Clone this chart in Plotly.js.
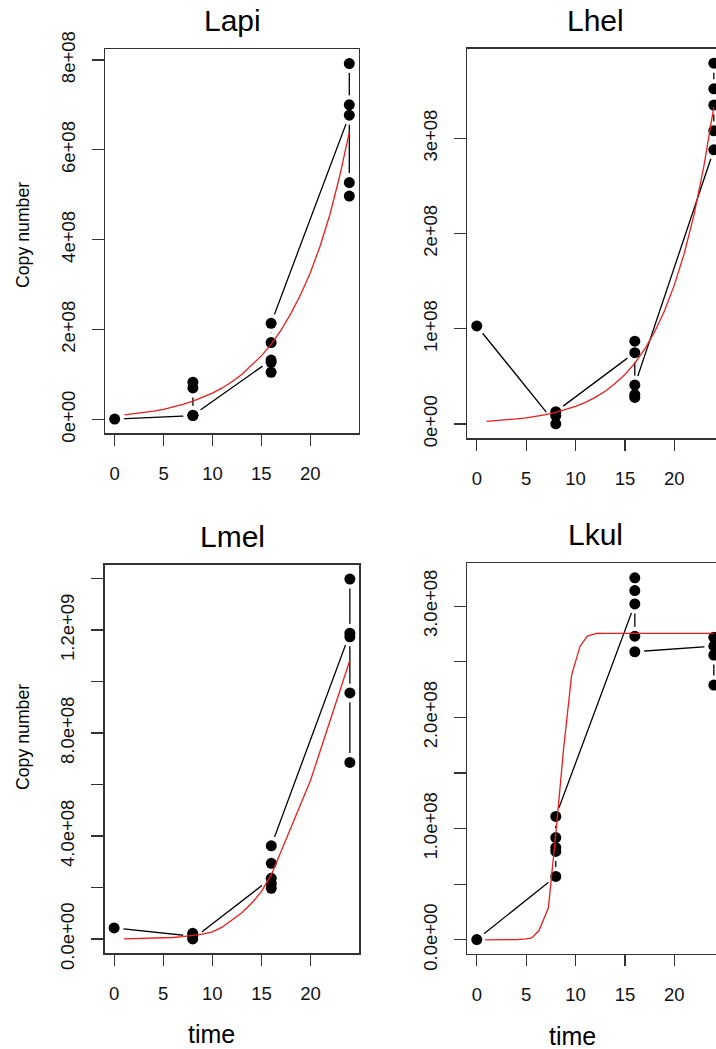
<!DOCTYPE html>
<html>
<head>
<meta charset="utf-8">
<script src="https://cdn.plot.ly/plotly-3.0.1.min.js"></script>
<style>
html,body{margin:0;padding:0;overflow:hidden;background:#fff;}
#plot{width:724px;height:1049px;}
</style>
</head>
<body>
<div id="plot"></div>
<script>
// ---------------- data (copy numbers, plotting order) ----------------
const panelNames = ["Lapi", "Lhel", "Lmel", "Lkul"];

const lapiTime   = [0, 8, 8, 8, 8, 16, 16, 16, 16, 16, 24, 24, 24, 24, 24];
const lapiCopies = [0.8e6, 8.5e6, 70e6, 83e6, 9.5e6, 132e6, 105e6, 127e6, 171e6, 214e6, 677e6, 700e6, 792e6, 527e6, 497e6];

const lhelTime   = [0, 8, 8, 8, 16, 16, 16, 16, 16, 24, 24, 24, 24, 24];
const lhelCopies = [103e6, 0.2e6, 9e6, 13e6, 75e6, 87e6, 28e6, 31e6, 41e6, 288e6, 308e6, 335e6, 352e6, 379e6];

const lmelTime   = [0, 8, 8, 8, 16, 16, 16, 16, 16, 24, 24, 24, 24, 24];
const lmelCopies = [43e6, 11e6, 22e6, 0.5e6, 236e6, 197e6, 216e6, 294e6, 362e6, 1188e6, 1398e6, 1174e6, 956e6, 686e6];

const lkulTime   = [0, 8, 8, 8, 8, 8, 16, 16, 16, 16, 16, 24, 24, 24, 24];
const lkulCopies = [0.3e6, 57e6, 79.5e6, 83e6, 92e6, 111e6, 302e6, 314e6, 325.5e6, 273e6, 259e6, 264e6, 272e6, 256e6, 229e6];

// fitted curves (red)
const fitTime = [1,2,3,4,5,6,7,8,9,10,11,12,13,14,15,16,17,18,19,20,21,22,23,24];
const lapiFit = [10.3e6,12.5e6,15.2e6,18.5e6,22.5e6,27.4e6,33.5e6,40.9e6,48.9e6,58.6e6,70.1e6,83.8e6,100e6,119.7e6,141.5e6,167e6,198e6,235e6,277e6,326e6,385e6,455e6,540e6,639e6];
const lhelFit = [2.9e6,3.6e6,4.4e6,5.4e6,6.6e6,8.1e6,10e6,12.3e6,15.1e6,18.6e6,22.8e6,28e6,34.5e6,42.5e6,52e6,64e6,78.6e6,96.6e6,118.7e6,145.9e6,179e6,220e6,271e6,333e6];
const lmelFit = [1e6,1.5e6,2e6,3e6,4e6,6e6,9e6,13e6,19e6,28e6,46e6,74e6,102e6,139e6,185e6,249e6,340e6,436e6,525e6,617e6,733e6,850e6,966e6,1083e6];
const lkulFitTime = [0.85,2,3,4,5,5.57,6.3,7.25,8.0,8.77,9.6,10.46,11.2,12.1,13,24];
const lkulFit = [0,0,0,0.3e6,0.8e6,1.8e6,8.4e6,28.8e6,95e6,170e6,238e6,264e6,273e6,275.4e6,275.6e6,275.6e6];

// tick labels
const xTicks = [0,5,10,15,20];
const xTickText = ["0","5","10","15","20"];
const lapiYTicks = [0,2e8,4e8,6e8,8e8];
const lapiYText  = ["0e+00","2e+08","4e+08","6e+08","8e+08"];
const lhelYTicks = [0,1e8,2e8,3e8];
const lhelYText  = ["0e+00","1e+08","2e+08","3e+08"];
const lmelYTicks = [0,2e8,4e8,6e8,8e8,10e8,12e8,14e8];
const lmelYText  = ["0.0e+00","","4.0e+08","","8.0e+08","","1.2e+09",""];
const lkulYTicks = [0,0.5e8,1e8,1.5e8,2e8,2.5e8,3e8];
const lkulYText  = ["0.0e+00","","1.0e+08","","2.0e+08","","3.0e+08"];

// ---------------- layout geometry (pixels) ----------------
const W = 724, H = 1049;
const boxes = [
  {x0:105.3, x1:358.7, y0:49.3,  y1:433.3},
  {x0:467.3, x1:723.3, y0:48.7,  y1:438.3},
  {x0:104.7, x1:359.3, y0:564.7, y1:953.3},
  {x0:467.3, x1:723.3, y0:563.3, y1:954.0}
];
const FONT = "Liberation Sans, Arial, Helvetica, sans-serif";

const series = [
  {t: lapiTime, v: lapiCopies, ft: fitTime, fv: lapiFit, yt: lapiYTicks, ytt: lapiYText},
  {t: lhelTime, v: lhelCopies, ft: fitTime, fv: lhelFit, yt: lhelYTicks, ytt: lhelYText},
  {t: lmelTime, v: lmelCopies, ft: fitTime, fv: lmelFit, yt: lmelYTicks, ytt: lmelYText},
  {t: lkulTime, v: lkulCopies, ft: lkulFitTime, fv: lkulFit, yt: lkulYTicks, ytt: lkulYText}
];

const traces = [];
const layout = {
  width: W, height: H,
  margin: {l:0, r:0, t:0, b:0},
  paper_bgcolor: "#fff", plot_bgcolor: "#fff",
  showlegend: false,
  font: {family: FONT, color: "#000"},
  annotations: []
};

series.forEach((s, i) => {
  const n = i + 1;
  const xa = "x" + (n === 1 ? "" : n), ya = "y" + (n === 1 ? "" : n);
  // line with white halo markers (gap around points like R type="b")
  traces.push({x: s.t, y: s.v, xaxis: xa, yaxis: ya, type: "scatter", mode: "lines+markers",
    line: {color: "#000", width: 1.3}, marker: {color: "#fff", size: 19, line: {width: 0}},
    hoverinfo: "skip"});
  traces.push({x: s.t, y: s.v, xaxis: xa, yaxis: ya, type: "scatter", mode: "markers",
    marker: {color: "#000", size: 11, line: {width: 0}}, hoverinfo: "skip"});
  traces.push({x: s.ft, y: s.fv, xaxis: xa, yaxis: ya, type: "scatter", mode: "lines",
    line: {color: "#ee1c1c", width: 1.3}, hoverinfo: "skip"});

  const mn = Math.min(...s.v), mx = Math.max(...s.v), d = mx - mn;
  const b = boxes[i];
  const axCommon = {showline: true, mirror: true, linecolor: "#333", linewidth: 1.3,
    ticks: "outside", tickcolor: "#333", tickwidth: 1.2, showgrid: false, zeroline: false,
    tickfont: {family: FONT, size: 18.5, color: "#111"}, tickmode: "array"};
  layout["xaxis" + (n === 1 ? "" : n)] = Object.assign({}, axCommon, {
    domain: [b.x0 / W, b.x1 / W], anchor: ya, range: [-0.96, 24.96],
    tickvals: xTicks, ticktext: xTickText, ticklen: 11, ticklabelstandoff: 12});
  layout["yaxis" + (n === 1 ? "" : n)] = Object.assign({}, axCommon, {
    domain: [1 - b.y1 / H, 1 - b.y0 / H], anchor: xa, range: [mn - 0.04 * d, mx + 0.04 * d],
    tickvals: s.yt, ticktext: s.ytt, ticklen: 12, tickangle: -90, ticklabelstandoff: 10});

  // panel title
  layout.annotations.push({text: panelNames[i], xref: "paper", yref: "paper",
    x: (b.x0 + b.x1) / 2 / W, y: 1 - (b.y0 - 10) / H, xanchor: "center", yanchor: "bottom",
    showarrow: false, font: {family: FONT, size: 30, color: "#000"}});
});

// axis titles (R draws them only on outer panels)
layout.annotations.push({text: "Copy number", xref: "paper", yref: "paper", x: 23 / W, y: 1 - 235 / H,
  xanchor: "center", yanchor: "middle", textangle: -90, showarrow: false, font: {family: FONT, size: 17.7}});
layout.annotations.push({text: "Copy number", xref: "paper", yref: "paper", x: 23 / W, y: 1 - 737 / H,
  xanchor: "center", yanchor: "middle", textangle: -90, showarrow: false, font: {family: FONT, size: 17.7}});
layout.annotations.push({text: "time", xref: "paper", yref: "paper", x: 212 / W, y: 1 - 1034 / H,
  xanchor: "center", yanchor: "middle", showarrow: false, font: {family: FONT, size: 25}});
layout.annotations.push({text: "time", xref: "paper", yref: "paper", x: 572 / W, y: 1 - 1036 / H,
  xanchor: "center", yanchor: "middle", showarrow: false, font: {family: FONT, size: 25}});

Plotly.newPlot("plot", traces, layout, {displayModeBar: false, staticPlot: true});
</script>
</body>
</html>
